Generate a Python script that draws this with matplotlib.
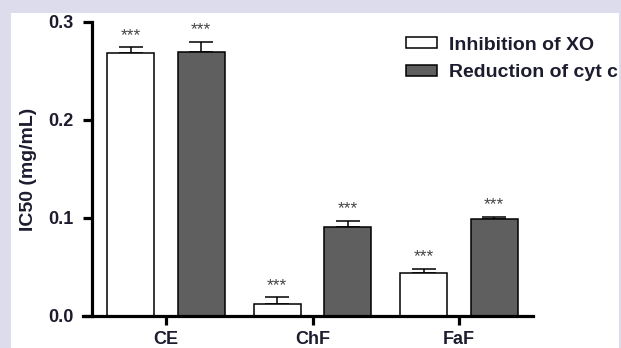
import numpy as np
import matplotlib
matplotlib.use('Agg')
import matplotlib.pyplot as plt
from matplotlib.patches import Rectangle

groups = ['CE', 'ChF', 'FaF']
series = ['Inhibition of XO', 'Reduction of cyt c']
xo_vals = [0.268, 0.0125, 0.0435]
xo_err = [0.006, 0.0065, 0.0048]
cyt_vals = [0.2695, 0.0905, 0.0988]
cyt_err = [0.0105, 0.0065, 0.0025]
stars = ['***', '***', '***']

plt.rcParams['font.family'] = ['Liberation Sans', 'DejaVu Sans']
plt.rcParams['font.weight'] = 'bold'

W, H = 621, 348
fig = plt.figure(figsize=(W / 100, H / 100), dpi=100)
fig.patch.set_facecolor('#dcdcec')
# white panel inside the lavender frame
fig.patches.append(Rectangle((11 / W, 0), (619 - 11) / W, (H - 13) / H,
                             transform=fig.transFigure, facecolor='white',
                             edgecolor='none', zorder=-10))

ax = fig.add_axes([92 / W, (H - 316) / H, (533 - 92) / W, (316 - 22) / H])
ax.set_facecolor('none')
ax.set_zorder(5)

x = np.arange(len(groups))
off = 0.24
bw = 0.32
txt_col = '#1c1c30'

for vals, errs, pos, fc in [(xo_vals, xo_err, x - off, 'white'),
                            (cyt_vals, cyt_err, x + off, '#5f5f5f')]:
    ax.bar(pos, vals, bw, color=fc, edgecolor='black', linewidth=1.1, zorder=2)
    ax.errorbar(pos, vals, yerr=[np.zeros(len(vals)), errs], fmt='none',
                ecolor='black', elinewidth=1.1, capsize=8.5, capthick=1.1, zorder=1)
    for p, v, e, s in zip(pos, vals, errs, stars):
        ax.text(p, v + e + 0.0125, s, ha='center', va='center', fontsize=12.5,
                color='#444444', fontweight='normal')

ax.set_xlim(-0.505, 2.505)
ax.set_ylim(0, 0.3)
ax.set_xticks(x)
ax.set_xticklabels(groups)
ax.set_yticks([0, 0.1, 0.2, 0.3])
ax.set_yticklabels(['0.0', '0.1', '0.2', '0.3'])
for side in ['top', 'right']:
    ax.spines[side].set_visible(False)
for side in ['left', 'bottom']:
    ax.spines[side].set_linewidth(2.3)
ax.spines['bottom'].set_bounds(-0.505 - 9 / 146.5, 2.505)
ax.tick_params(axis='both', width=2.3, length=6.5, labelcolor=txt_col)
ax.tick_params(axis='x', labelsize=13, pad=4.5)
ax.tick_params(axis='y', labelsize=13, pad=7)
ax.set_ylabel('IC50 (mg/mL)', fontsize=14, fontweight='bold', color=txt_col, labelpad=8)

handles = [Rectangle((0, 0), 1, 1, facecolor='white', edgecolor='black', linewidth=1.1),
           Rectangle((0, 0), 1, 1, facecolor='#5f5f5f', edgecolor='black', linewidth=1.1)]
fig.legend(handles, series, loc='upper left', bbox_to_anchor=(388 / W, 1 - 19 / H),
           frameon=False, fontsize=14, handlelength=1.6, handleheight=0.5,
           handletextpad=0.65, labelspacing=0.55, labelcolor=txt_col)

fig.savefig('out.png', dpi=100, facecolor=fig.get_facecolor())
